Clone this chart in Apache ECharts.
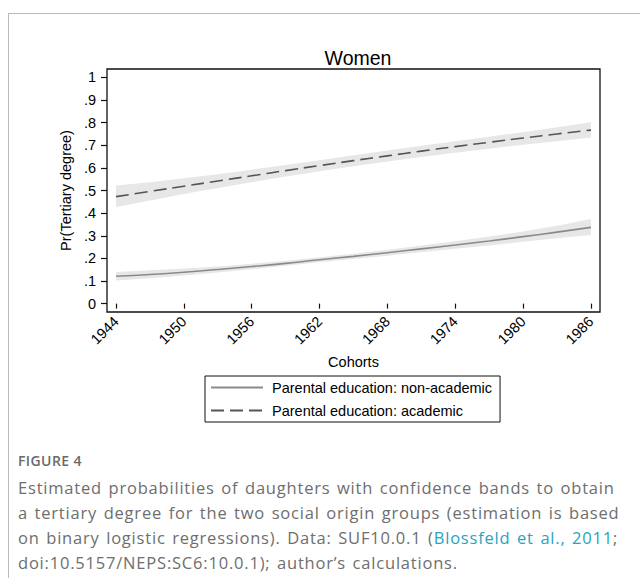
<!DOCTYPE html>
<html>
<head>
<meta charset="utf-8">
<script src="https://cdn.jsdelivr.net/npm/echarts@6/dist/echarts.min.js"></script>
<style>
  html, body { margin: 0; padding: 0; background: #fff; }
  #page { position: relative; width: 640px; height: 578px; overflow: hidden; background: #fff; }
  #chart { position: absolute; left: 0; top: 0; width: 640px; height: 440px; }
  #frameTop { position: absolute; left: 8px; top: 13px; width: 640px; height: 0; border-top: 1.5px solid #b9b9b9; }
  #frameLeft { position: absolute; left: 8px; top: 13px; width: 0; height: 600px; border-left: 1.5px solid #b9b9b9; }
  #cap { position: absolute; left: 18px; top: 452px; width: 620px; font-family: "Open Sans", "Lato", sans-serif; color: #6e6e6e; }
  #cap .fig { font-size: 14px; font-weight: 600; color: #6a6a6a; line-height: 18px; letter-spacing: 0.4px; }
  #cap .txt { font-size: 16.5px; line-height: 24.9px; margin-top: 6px; white-space: nowrap; letter-spacing: 0.8px; word-spacing: 1.5px; }
  #cap a { color: #2aa3bd; text-decoration: none; }
</style>
</head>
<body>
<div id="page">
  <div id="chart"></div>
  <div id="frameTop"></div>
  <div id="frameLeft"></div>
  <div id="cap">
    <div class="fig">FIGURE 4</div>
    <div class="txt">Estimated probabilities of daughters with confidence bands to obtain<br>a tertiary degree for the two social origin groups (estimation is based<br>on binary logistic regressions). Data: SUF10.0.1 (<a>Blossfeld et al., 2011</a>;<br>doi:10.5157/NEPS:SC6:10.0.1); author’s calculations.</div>
  </div>
</div>
<script>
// ---- data ----
const years = [1944, 1947, 1950, 1953, 1956, 1959, 1962, 1965, 1968, 1971, 1974, 1977, 1980, 1983, 1986];
const nonAcad      = [0.121, 0.129, 0.139, 0.151, 0.164, 0.178, 0.194, 0.209, 0.225, 0.242, 0.259, 0.277, 0.296, 0.316, 0.337];
const nonAcadLower = [0.102, 0.112, 0.124, 0.138, 0.152, 0.167, 0.183, 0.197, 0.212, 0.227, 0.242, 0.257, 0.273, 0.289, 0.303];
const nonAcadUpper = [0.140, 0.147, 0.155, 0.164, 0.176, 0.189, 0.205, 0.221, 0.238, 0.257, 0.276, 0.297, 0.319, 0.344, 0.374];
const acad      = [0.473, 0.496, 0.519, 0.542, 0.565, 0.588, 0.610, 0.632, 0.653, 0.674, 0.694, 0.713, 0.732, 0.750, 0.767];
const acadLower = [0.427, 0.456, 0.484, 0.511, 0.537, 0.562, 0.585, 0.607, 0.628, 0.648, 0.667, 0.685, 0.702, 0.718, 0.734];
const acadUpper = [0.522, 0.537, 0.554, 0.572, 0.592, 0.613, 0.634, 0.656, 0.677, 0.698, 0.718, 0.738, 0.758, 0.780, 0.802];
const xTicks = [1944, 1950, 1956, 1962, 1968, 1974, 1980, 1986];
const yTicks = [0, 0.1, 0.2, 0.3, 0.4, 0.5, 0.6, 0.7, 0.8, 0.9, 1];
const seriesNames = ['Parental education: non-academic', 'Parental education: academic'];

const pair = (xs, ys) => xs.map((x, i) => [x, ys[i]]);

function bandSeries(lower, upper) {
  return {
    type: 'custom',
    coordinateSystem: 'cartesian2d',
    data: [[years[0], lower[0]]],
    silent: true,
    z: 1,
    clip: true,
    renderItem: function (params, api) {
      const top = years.map((y, i) => api.coord([y, upper[i]]));
      const bot = years.map((y, i) => api.coord([y, lower[i]])).reverse();
      return { type: 'polygon', shape: { points: top.concat(bot) }, style: { fill: '#e7e7e8' } };
    }
  };
}

const fontFam = '"Liberation Sans", Arial, sans-serif';
const fs = 14.5;
const chart = echarts.init(document.getElementById('chart'), null, { renderer: 'svg' });
chart.setOption({
  animation: false,
  backgroundColor: 'transparent',
  title: {
    text: 'Women', left: 353, top: 43, textAlign: 'center',
    textStyle: { fontFamily: fontFam, fontSize: 19.5, fontWeight: 'normal', color: '#000' }
  },
  grid: { left: 107, top: 69, width: 493, height: 243, show: true, borderColor: '#111', borderWidth: 1.3, backgroundColor: '#fff' },
  legend: {
    orient: 'vertical', left: 205, top: 376,
    data: seriesNames,
    itemWidth: 52, itemHeight: 14, itemGap: 8,
    padding: [4, 8, 4, 5],
    borderColor: '#111', borderWidth: 1,
    itemStyle: { opacity: 0 },
    textStyle: { fontFamily: fontFam, fontSize: fs, color: '#000', padding: [0, 0, 0, 4] },
    selectedMode: false
  },
  xAxis: {
    type: 'value', min: 1943.2, max: 1986.8,
    name: 'Cohorts', nameLocation: 'middle', nameGap: 42,
    nameTextStyle: { fontFamily: fontFam, fontSize: fs, color: '#000' },
    axisLine: { show: false },
    axisTick: { show: true, inside: false, length: 5, customValues: xTicks, lineStyle: { color: '#111', width: 1.2 } },
    axisLabel: { customValues: xTicks, rotate: 45, margin: 7, fontFamily: fontFam, fontSize: fs, color: '#000', formatter: v => String(v) },
    splitLine: { show: false }
  },
  yAxis: {
    type: 'value', min: -0.037, max: 1.037,
    name: 'Pr(Tertiary degree)', nameLocation: 'middle', nameGap: 30, nameRotate: 90,
    nameTextStyle: { fontFamily: fontFam, fontSize: fs, color: '#000' },
    axisLine: { show: false },
    axisTick: { show: true, inside: false, length: 6, customValues: yTicks, lineStyle: { color: '#111', width: 1.2 } },
    axisLabel: {
      customValues: yTicks, margin: 11, fontFamily: fontFam, fontSize: fs, color: '#000',
      formatter: v => {
        const r = Math.round(v * 10) / 10;
        if (r === 0) return '0';
        if (r === 1) return '1';
        return r.toFixed(1).replace(/^0/, '');
      }
    },
    splitLine: { show: false }
  },
  series: [
    bandSeries(nonAcadLower, nonAcadUpper),
    bandSeries(acadLower, acadUpper),
    {
      name: seriesNames[0], type: 'line', data: pair(years, nonAcad), smooth: true, symbol: 'none', z: 3,
      lineStyle: { color: '#8a8a8a', width: 1.6 }, itemStyle: { color: '#8a8a8a' }
    },
    {
      name: seriesNames[1], type: 'line', data: pair(years, acad), smooth: true, symbol: 'none', z: 3,
      lineStyle: { color: '#555', width: 1.6, type: [13, 6] }, itemStyle: { color: '#555' }
    }
  ]
});
</script>
</body>
</html>
